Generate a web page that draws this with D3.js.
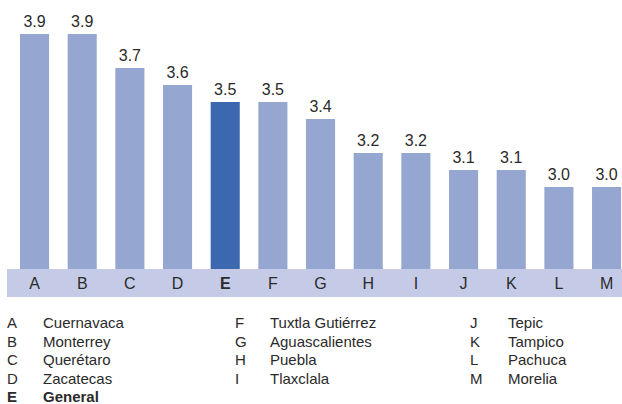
<!DOCTYPE html>
<html>
<head>
<meta charset="utf-8">
<script src="https://cdn.jsdelivr.net/npm/d3@7"></script>
<style>
  body { margin: 0; background: #fff; }
  text { font-family: "Liberation Sans", Arial, Helvetica, sans-serif; fill: #2a2a2a; }
</style>
</head>
<body>
<div class="chart"></div>
<script>
let letters = ["A", "B", "C", "D", "E", "F", "G", "H", "I", "J", "K", "L", "M"]
let values = [3.9, 3.9, 3.7, 3.6, 3.5, 3.5, 3.4, 3.2, 3.2, 3.1, 3.1, 3.0, 3.0]
let cities = ["Cuernavaca", "Monterrey", "Querétaro", "Zacatecas", "General",
    "Tuxtla Gutiérrez", "Aguascalientes", "Puebla", "Tlaxclala",
    "Tepic", "Tampico", "Pachuca", "Morelia"]
let highlight = "E"

let colors = {
    bar: "#95a6d0",
    barHi: "#3b68ae",
    band: "#c5cae6"
}

const width = 622, height = 404
const bandTop = 269, bandBottom = 297

const svg = d3.select('.chart')
    .append('svg')
    .attr('width', width)
    .attr('height', height)

const xScale = d3.scaleBand()
    .domain(letters)
    .range([10.7, 630.4])
    .paddingInner(0.39)
    .paddingOuter(0.195)

const yScale = d3.scaleLinear()
    .domain([2.5, 4.0])
    .range([272, 17])

// band under the bars
svg.append('rect')
    .attr('x', 7)
    .attr('y', bandTop)
    .attr('width', width - 7)
    .attr('height', bandBottom - bandTop)
    .style('fill', colors.band)

const data = letters.map((l, i) => ({ letter: l, value: values[i], city: cities[i] }))

svg.append('g')
    .selectAll('rect')
    .data(data)
    .join('rect')
    .attr('x', d => xScale(d.letter))
    .attr('y', d => yScale(d.value))
    .attr('width', xScale.bandwidth())
    .attr('height', d => bandTop - yScale(d.value))
    .style('fill', d => d.letter == highlight ? colors.barHi : colors.bar)

// value labels
svg.append('g')
    .selectAll('text')
    .data(data)
    .join('text')
    .attr('x', d => xScale(d.letter) + xScale.bandwidth() / 2)
    .attr('y', d => yScale(d.value) - 7)
    .attr('text-anchor', 'middle')
    .attr('font-size', '16px')
    .text(d => d3.format('.1f')(d.value))

// axis letters inside the band
const xAxis = d3.axisBottom(xScale).tickSize(0).tickPadding(0)
const xAxisDraw = svg.append('g')
    .attr('transform', `translate(0, ${bandTop})`)
    .call(xAxis)
xAxisDraw.select('.domain').remove()
xAxisDraw.selectAll('text')
    .attr('y', 0)
    .attr('dy', 0)
    .attr('transform', 'translate(0, 19.5)')
    .attr('font-size', '16px')
    .attr('font-family', '"Liberation Sans", Arial, sans-serif')
    .style('fill', '#2a2a2a')
    .attr('font-weight', d => d == highlight ? 'bold' : 'normal')

// legend, three columns
const cols = [
    { letterX: 7, nameX: 43, items: data.slice(0, 5) },
    { letterX: 235, nameX: 270, items: data.slice(5, 9) },
    { letterX: 470, nameX: 508, items: data.slice(9) }
]
const rowY = d3.scaleLinear().domain([0, 1]).range([328, 346.6])

cols.forEach(col => {
    const g = svg.append('g').attr('class', 'legend')
    g.selectAll('.lt')
        .data(col.items)
        .join('text')
        .attr('class', 'lt')
        .attr('x', col.letterX)
        .attr('y', (d, i) => rowY(i))
        .attr('font-size', '15px')
        .attr('font-weight', d => d.letter == highlight ? 'bold' : 'normal')
        .text(d => d.letter)
    g.selectAll('.nm')
        .data(col.items)
        .join('text')
        .attr('class', 'nm')
        .attr('x', col.nameX)
        .attr('y', (d, i) => rowY(i))
        .attr('font-size', '15px')
        .attr('font-weight', d => d.letter == highlight ? 'bold' : 'normal')
        .text(d => d.city)
})
</script>
</body>
</html>
